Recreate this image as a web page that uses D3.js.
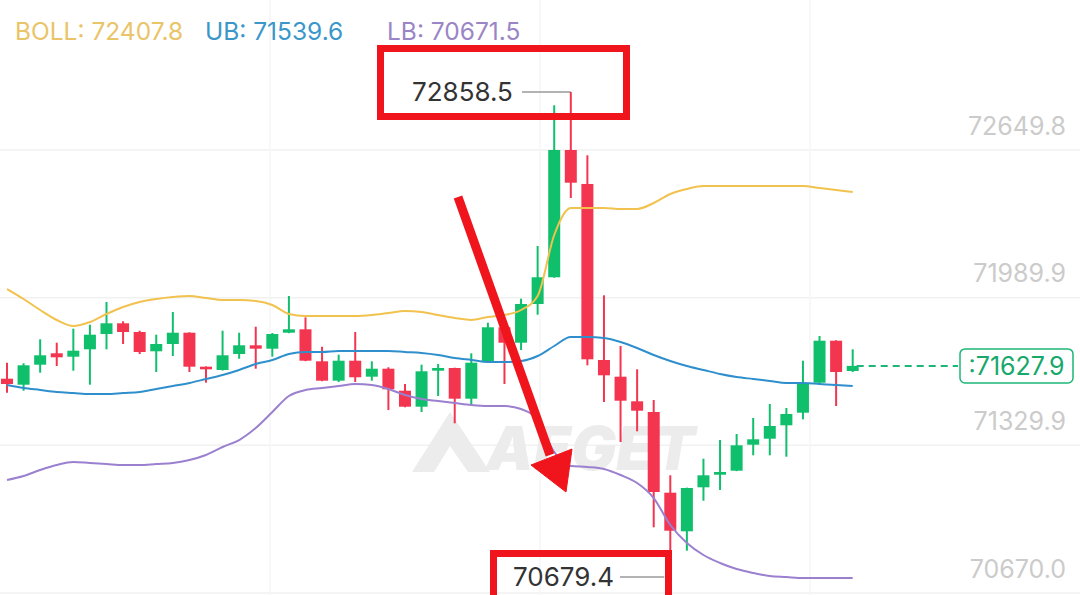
<!DOCTYPE html>
<html>
<head>
<meta charset="utf-8">
<script src="https://cdn.jsdelivr.net/npm/d3@7"></script>
<style>
  html, body { margin: 0; padding: 0; background: #fff; }
  svg { display: block; font-family: Inter, Roboto, "Noto Sans", sans-serif; }
</style>
</head>
<body>
<div class="chart"></div>
<script>
// candle data
const candleOpen = [71570.4, 71543.4, 71633.3, 71684.5, 71669.2, 71702.5, 71771.2, 71819.3, 71780.2, 71693.5,
  71726.3, 71777.0, 71624.3, 71609.5, 71681.3, 71720.4, 71705.2, 71777.0, 71792.3, 71648.5,
  71561.4, 71651.2, 71579.4, 71615.3, 71516.4, 71444.6, 71606.3, 71618.4, 71480.5, 71648.5,
  71801.3, 71732.1, 71906.0, 72026.0, 72597.9, 72445.2, 71654.4, 71579.4, 71468.8, 71420.7,
  71058.2, 70884.7, 71082.4, 71139.0, 71157.0, 71273.8, 71300.8, 71361.0, 71417.6, 71552.4,
  71741.1, 71605.0];
const candleHigh = [71642.2, 71639.5, 71747.4, 71732.1, 71795.0, 71813.0, 71915.0, 71828.3, 71786.0, 71768.1,
  71870.0, 71779.0, 71625.5, 71786.0, 71777.0, 71804.0, 71775.7, 71941.9, 71846.2, 71714.1,
  71678.2, 71780.2, 71648.5, 71621.6, 71546.6, 71633.3, 71636.4, 71620.0, 71684.5, 71822.0,
  71803.0, 71929.8, 72166.6, 72798.8, 72858.5, 72574.1, 71945.1, 71717.3, 71612.6, 71474.7,
  71136.3, 71081.0, 71210.9, 71294.9, 71321.9, 71393.8, 71456.7, 71438.7, 71651.2, 71762.2,
  71743.0, 71702.5];
const candleLow = [71507.5, 71516.4, 71597.3, 71627.4, 71606.3, 71543.4, 71702.5, 71726.3, 71681.3, 71600.5,
  71672.4, 71600.5, 71552.4, 71607.0, 71660.2, 71615.3, 71669.2, 71775.0, 71649.0, 71559.0,
  71555.5, 71555.5, 71561.4, 71429.7, 71442.0, 71420.7, 71492.6, 71370.0, 71456.7, 71646.0,
  71546.6, 71699.3, 71857.9, 72024.0, 72382.3, 71630.6, 71465.7, 71286.0, 71334.0, 70902.7,
  70679.4, 70797.6, 71022.2, 71070.3, 71155.0, 71226.2, 71226.2, 71219.9, 71388.0, 71550.0,
  71447.7, 71600.5];
const candleClose = [71546.6, 71630.6, 71675.5, 71666.5, 71696.2, 71768.1, 71819.3, 71780.2, 71690.3, 71726.3,
  71777.0, 71624.3, 71612.6, 71675.5, 71720.4, 71705.2, 71771.2, 71792.3, 71651.2, 71561.4,
  71651.2, 71576.7, 71615.3, 71522.7, 71444.6, 71603.6, 71618.4, 71480.5, 71642.2, 71801.3,
  71732.1, 71906.0, 72026.0, 72597.9, 72451.0, 71657.5, 71585.6, 71471.5, 71426.6, 71061.3,
  70887.4, 71079.3, 71136.3, 71151.2, 71271.1, 71298.1, 71357.8, 71411.8, 71552.4, 71741.1,
  71600.5, 71627.9];

// bollinger lines
const bandUpper = [71973.4, 71928.5, 71879.0, 71834.1, 71807.1, 71825.1, 71861.1, 71892.5, 71915.0, 71928.5,
  71937.4, 71941.9, 71933.0, 71924.0, 71924.0, 71919.5, 71901.5, 71861.1, 71852.1, 71852.1,
  71852.1, 71852.1, 71856.6, 71865.6, 71874.5, 71870.0, 71856.6, 71843.1, 71834.1, 71847.6,
  71856.6, 71879.0, 71941.9, 72216.0, 72337.3, 72337.3, 72337.3, 72332.8, 72332.8, 72359.8,
  72400.2, 72422.7, 72436.2, 72436.2, 72436.2, 72436.2, 72436.2, 72436.2, 72436.2, 72427.2,
  72418.2, 72409.2];
const bandMid = [71542.1, 71528.6, 71519.6, 71510.6, 71506.1, 71501.6, 71501.6, 71506.1, 71510.6, 71524.1,
  71537.6, 71551.0, 71569.0, 71587.0, 71609.5, 71636.4, 71654.4, 71681.3, 71690.3, 71690.3,
  71694.8, 71694.8, 71694.8, 71694.8, 71690.3, 71685.8, 71676.8, 71663.4, 71654.4, 71645.4,
  71645.4, 71649.9, 71672.4, 71717.3, 71757.7, 71757.7, 71753.2, 71735.3, 71708.3, 71676.8,
  71649.9, 71627.4, 71609.5, 71591.5, 71578.0, 71569.0, 71560.0, 71551.0, 71551.0, 71546.6,
  71542.1, 71537.6];
const bandLower = [71115.2, 71133.2, 71160.2, 71182.6, 71196.1, 71191.6, 71187.1, 71182.6, 71182.6, 71187.1,
  71191.6, 71205.1, 71227.5, 71263.5, 71294.9, 71348.9, 71420.7, 71492.6, 71519.6, 71528.6,
  71537.6, 71546.6, 71542.1, 71524.1, 71497.1, 71479.2, 71470.2, 71461.2, 71452.2, 71447.7,
  71447.7, 71434.2, 71384.8, 71241.0, 71178.1, 71173.6, 71164.6, 71137.7, 71101.7, 71034.3,
  70913.0, 70832.2, 70778.2, 70742.3, 70715.3, 70697.4, 70683.9, 70679.4, 70674.9, 70674.9,
  70674.9, 70674.9];

const axisLabels = ["72649.8", "71989.9", "71329.9", "70670.0"];
const legendItems = [
  { text: "BOLL: 72407.8", color: "#e9c468", x: 15 },
  { text: "UB: 71539.6", color: "#3b97c9", x: 205 },
  { text: "LB: 70671.5", color: "#9a86c6", x: 387 }
];
const highValue = 72858.5, lowValue = 70679.4, lastPrice = 71627.9;
const lastPriceLabel = ":71627.9";

const width = 1080, height = 595;
const green = "#10bf6c", red = "#f3354f";

const svg = d3.select(".chart").append("svg")
  .attr("width", width).attr("height", height);

const x = d3.scaleLinear().domain([0, candleOpen.length - 1]).range([7, 852.7]);
const y = d3.scaleLinear().domain([lowValue, highValue]).range([577, 92]);
// the app's grid rows don't follow the candle scale, so they get their own
const gridY = d3.scaleLinear().domain([0, axisLabels.length - 1]).range([150, 593]);

// grid
svg.append("g").selectAll("line").data(axisLabels).enter().append("line")
  .attr("x1", 0).attr("x2", width)
  .attr("y1", (d, i) => gridY(i)).attr("y2", (d, i) => gridY(i))
  .attr("stroke", "#f1f1f1").attr("stroke-width", 1.5);
svg.append("g").selectAll("line").data([270, 540, 810]).enter().append("line")
  .attr("x1", d => d).attr("x2", d => d).attr("y1", 0).attr("y2", height)
  .attr("stroke", "#f6f6f6").attr("stroke-width", 1.5);

svg.append("g").selectAll("text").data(axisLabels).enter().append("text")
  .attr("x", 1066).attr("y", (d, i) => gridY(i) - 24)
  .attr("dy", "0.35em").attr("text-anchor", "end")
  .attr("font-size", 25).attr("fill", "#cbcbcb")
  .text(d => d);

// watermark
const wm = svg.append("g").attr("fill", "#ececec");
wm.append("path").attr("d", "M412,472 L450,412 L490,472 L468,472 L450,446 L434,472 Z");
wm.append("text").attr("x", 486).attr("y", 470).attr("font-size", 60)
  .attr("font-weight", 900).attr("font-style", "italic").text("AEGET");

// candles
const candles = d3.range(candleOpen.length).map(i => ({
  i, o: candleOpen[i], h: candleHigh[i], l: candleLow[i], c: candleClose[i]
}));
const bodyW = 12;
const cg = svg.append("g");
cg.selectAll(".wick").data(candles).enter().append("line")
  .attr("x1", d => x(d.i)).attr("x2", d => x(d.i))
  .attr("y1", d => y(d.h)).attr("y2", d => y(d.l))
  .attr("stroke", d => d.c >= d.o ? green : red).attr("stroke-width", 2);
cg.selectAll(".body").data(candles).enter().append("rect")
  .attr("x", d => x(d.i) - bodyW / 2).attr("width", bodyW)
  .attr("y", d => y(Math.max(d.o, d.c)))
  .attr("height", d => Math.max(2.5, Math.abs(y(d.o) - y(d.c))))
  .attr("fill", d => d.c >= d.o ? green : red);

// bands
const line = d3.line().x((d, i) => x(i)).y(d => y(d)).curve(d3.curveMonotoneX);
[[bandUpper, "#f1c24e"], [bandMid, "#2f8fcd"], [bandLower, "#9a80cf"]].forEach(([data, color]) => {
  svg.append("path").datum(data).attr("d", line)
    .attr("fill", "none").attr("stroke", color).attr("stroke-width", 2);
});

// last price
const lastX = x(candleOpen.length - 1);
svg.append("line")
  .attr("x1", lastX + 4).attr("x2", 958).attr("y1", y(lastPrice)).attr("y2", y(lastPrice))
  .attr("stroke", "#1db677").attr("stroke-width", 2).attr("stroke-dasharray", "7,5");
svg.append("rect").attr("x", 960).attr("y", y(lastPrice) - 17).attr("width", 113).attr("height", 34)
  .attr("rx", 5).attr("fill", "#fff").attr("stroke", "#1db677").attr("stroke-width", 1.5);
svg.append("text").attr("x", 1016.5).attr("y", y(lastPrice)).attr("dy", "0.36em")
  .attr("text-anchor", "middle").attr("font-size", 25).attr("fill", "#17a86c").text(lastPriceLabel);

// legend
legendItems.forEach(item => {
  svg.append("text").attr("x", item.x).attr("y", 31).attr("dy", "0.35em")
    .attr("font-size", 24.5).attr("fill", item.color).text(item.text);
});

// high / low marks
const ann = svg.append("g");
const hiIdx = candleHigh.indexOf(d3.max(candleHigh));
const loIdx = candleLow.indexOf(d3.min(candleLow));
ann.append("line").attr("x1", 522).attr("x2", x(hiIdx)).attr("y1", y(highValue)).attr("y2", y(highValue))
  .attr("stroke", "#666").attr("stroke-width", 1);
ann.append("text").attr("x", 412).attr("y", y(highValue)).attr("dy", "0.36em")
  .attr("font-size", 26).attr("fill", "#333").text(highValue.toFixed(1));
ann.append("line").attr("x1", 620).attr("x2", x(loIdx) - 6).attr("y1", y(lowValue)).attr("y2", y(lowValue))
  .attr("stroke", "#666").attr("stroke-width", 1);
ann.append("text").attr("x", 513).attr("y", y(lowValue)).attr("dy", "0.36em")
  .attr("font-size", 26).attr("fill", "#333").text(lowValue.toFixed(1));

// red highlight boxes
const boxRed = "#f0141c";
ann.append("rect").attr("x", 380.5).attr("y", 48.5).attr("width", 246).attr("height", 68)
  .attr("fill", "none").attr("stroke", boxRed).attr("stroke-width", 7);
ann.append("rect").attr("x", 493.5).attr("y", 553.5).attr("width", 175).attr("height", 50)
  .attr("fill", "none").attr("stroke", boxRed).attr("stroke-width", 7);

// arrow
const arrow = svg.append("g").attr("fill", boxRed).attr("stroke", boxRed);
arrow.append("line").attr("x1", 458).attr("y1", 197).attr("x2", 550).attr("y2", 455)
  .attr("stroke-width", 9);
arrow.append("path").attr("d", "M531,465 L572,449 L566,492 Z").attr("stroke-width", 1);
</script>
</body>
</html>
